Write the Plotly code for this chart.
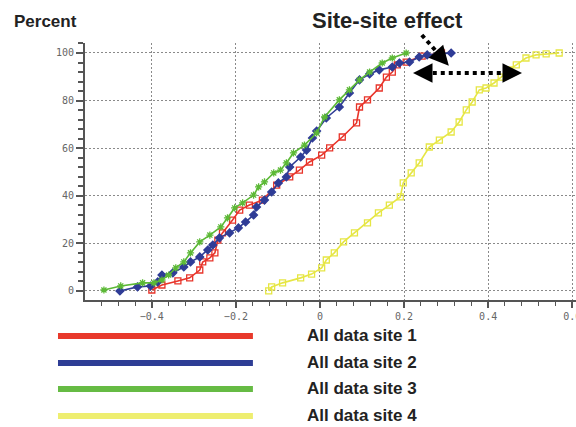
import plotly.graph_objects as go

sites = ["All data site 1", "All data site 2", "All data site 3", "All data site 4"]
colors = ["#e8342a", "#2f3c96", "#5cb936", "#e6e644"]
legend_colors = ["#e8392b", "#2e3d95", "#66bb44", "#eeee70"]
symbols = ["square-open", "diamond", "asterisk-open", "square-open"]

site1_x = [-0.400, -0.376, -0.338, -0.310, -0.286, -0.279, -0.262, -0.250, -0.243, -0.232, -0.208, -0.191,
           -0.168, -0.137, -0.103, -0.072, -0.049, -0.025, 0.004, 0.023, 0.053, 0.087, 0.094, 0.113, 0.141,
           0.158, 0.172, 0.184, 0.205, 0.243, 0.289]
site1_y = [0.4, 2.5, 4.2, 5.5, 8.8, 12.2, 13.9, 16.0, 21.4, 24.4, 29.8, 34.0, 36.1, 38.2, 44.5, 47.9, 50.8,
           54.2, 57.1, 60.1, 64.7, 70.6, 77.3, 80.3, 85.3, 89.9, 92.0, 95.0, 96.2, 98.7, 100.0]

site2_x = [-0.476, -0.434, -0.403, -0.386, -0.376, -0.350, -0.324, -0.308, -0.286, -0.267, -0.255, -0.239,
           -0.215, -0.194, -0.177, -0.158, -0.151, -0.132, -0.115, -0.099, -0.080, -0.072, -0.046, -0.032,
           -0.018, -0.008, 0.015, 0.046, 0.070, 0.094, 0.118, 0.141, 0.172, 0.189, 0.213, 0.236, 0.255, 0.312]
site2_y = [0.0, 1.7, 2.1, 3.8, 6.7, 7.6, 10.1, 12.2, 14.3, 17.2, 19.3, 22.3, 24.4, 26.5, 29.0, 31.9, 35.3,
           38.2, 41.6, 45.4, 47.9, 52.1, 56.3, 59.2, 64.3, 67.2, 72.7, 77.3, 83.2, 88.7, 91.2, 92.9, 94.1,
           95.8, 96.2, 98.3, 99.2, 100.0]

site3_x = [-0.514, -0.474, -0.422, -0.395, -0.376, -0.360, -0.343, -0.324, -0.308, -0.286, -0.262, -0.236,
           -0.220, -0.203, -0.184, -0.158, -0.146, -0.132, -0.110, -0.094, -0.080, -0.063, -0.037, -0.008,
           0.011, 0.046, 0.070, 0.094, 0.118, 0.148, 0.172, 0.205]
site3_y = [0.4, 2.1, 3.4, 3.4, 4.6, 6.7, 9.7, 12.2, 16.0, 20.6, 23.5, 26.9, 30.7, 34.9, 37.0, 40.3, 43.7,
           45.8, 49.6, 50.8, 53.8, 58.0, 61.3, 66.4, 73.1, 80.3, 84.5, 88.7, 92.0, 95.8, 97.9, 100.0]

site4_x = [-0.122, -0.115, -0.089, -0.046, -0.020, 0.004, 0.015, 0.034, 0.056, 0.082, 0.113, 0.139, 0.165,
           0.191, 0.198, 0.217, 0.236, 0.260, 0.284, 0.312, 0.331, 0.348, 0.362, 0.379, 0.395, 0.414, 0.431,
           0.450, 0.467, 0.490, 0.514, 0.538, 0.569]
site4_y = [0.0, 1.7, 3.4, 5.5, 7.1, 9.7, 13.0, 16.0, 20.6, 24.4, 28.6, 32.8, 36.1, 39.5, 45.4, 49.6, 53.8,
           60.5, 63.4, 66.8, 71.0, 76.1, 79.4, 84.5, 85.3, 87.4, 89.9, 92.9, 95.0, 97.9, 99.2, 99.6, 100.0]

x_ticks = [-0.4, -0.2, 0, 0.2, 0.4, 0.6]
x_tick_labels = ["\u22120.4", "\u22120.2", "0", "0.2", "0.4", "0.6"]
y_ticks = [0, 20, 40, 60, 80, 100]
y_tick_labels = ["0", "20", "40", "60", "80", "100"]

series = [(site1_x, site1_y), (site2_x, site2_y), (site3_x, site3_y), (site4_x, site4_y)]

fig = go.Figure()
# draw yellow first so others overlay
for i in [3, 0, 1, 2]:
    xs, ys = series[i]
    fig.add_trace(go.Scatter(
        x=xs, y=ys, mode="lines+markers", name=sites[i], showlegend=False,
        line=dict(color=colors[i], width=1.6),
        marker=dict(symbol=symbols[i], size=6, color=colors[i], line=dict(color=colors[i], width=1.3)),
    ))

tickfont = dict(family="DejaVu Sans Mono", size=10, color="#666666")
fig.update_xaxes(
    range=[-0.559, 0.609], tickvals=x_ticks, ticktext=x_tick_labels, tickfont=tickfont,
    ticklabeloverflow="allow", automargin=False,
    ticks="outside", ticklen=6, tickwidth=1.5, tickcolor="#555555",
    showline=True, linecolor="#555555", linewidth=2,
    showgrid=True, gridcolor="#8a8a8a", gridwidth=1, griddash="2px,2px", zeroline=False,
    minor=dict(dtick=0.04, tick0=0, ticks="outside", ticklen=4, tickwidth=1.2, tickcolor="#555555", showgrid=False),
)
fig.update_yaxes(
    range=[-3.8, 104.2], tickvals=y_ticks, ticktext=y_tick_labels, tickfont=tickfont,
    automargin=False,
    ticks="outside", ticklen=7, tickwidth=1.5, tickcolor="#555555",
    showline=True, linecolor="#555555", linewidth=2,
    showgrid=True, gridcolor="#8a8a8a", gridwidth=1, griddash="2px,2px", zeroline=False,
    minor=dict(dtick=4, tick0=0, ticks="outside", ticklen=5, tickwidth=1.5, tickcolor="#555555", showgrid=False),
)

shapes = []
annotations = []
# legend
leg_y = [-0.140, -0.245, -0.346, -0.451]
for i in range(4):
    shapes.append(dict(type="line", xref="paper", yref="paper", x0=-0.055, x1=0.342, y0=leg_y[i], y1=leg_y[i],
                       line=dict(color=legend_colors[i], width=6)))
    annotations.append(dict(text=sites[i], xref="paper", yref="paper", x=0.448, y=leg_y[i], xanchor="left",
                            yanchor="middle", showarrow=False,
                            font=dict(family="Liberation Sans", size=17, color="#222222", weight="bold")))

# arrows
shapes.append(dict(type="line", xref="paper", yref="paper", x0=0.686, y0=1.031, x1=0.729, y1=0.938,
                   line=dict(color="black", width=4, dash="dot")))
shapes.append(dict(type="line", xref="paper", yref="paper", x0=0.692, y0=0.883, x1=0.866, y1=0.883,
                   line=dict(color="black", width=4, dash="dot")))
for (hx, hy, ax, ay) in [(0.741, 0.911, -8, -9), (0.668, 0.883, 12, 0), (0.890, 0.883, -12, 0)]:
    annotations.append(dict(text="", xref="paper", yref="paper", x=hx, y=hy, ax=ax, ay=ay,
                            showarrow=True, arrowhead=2, arrowsize=1.3, arrowwidth=3, arrowcolor="black"))

annotations.append(dict(text="Percent", xref="paper", yref="paper", x=-0.149, y=1.082, xanchor="left",
                        yanchor="middle", showarrow=False,
                        font=dict(family="Liberation Sans", size=17, color="#222222", weight="bold")))
annotations.append(dict(text="Site-site effect", xref="paper", yref="paper", x=0.617, y=1.089,
                        xanchor="center", yanchor="middle", showarrow=False,
                        font=dict(family="Liberation Sans", size=22, color="#222222", weight="bold")))

fig.update_layout(
    width=576, height=427,
    margin=dict(l=85, r=0, t=43, b=127),
    paper_bgcolor="white", plot_bgcolor="white",
    shapes=shapes, annotations=annotations,
    showlegend=False,
)

fig.write_html("out.html", config={"displayModeBar": False},
               post_script="document.body.style.margin='0px';document.body.style.overflow='hidden';")
